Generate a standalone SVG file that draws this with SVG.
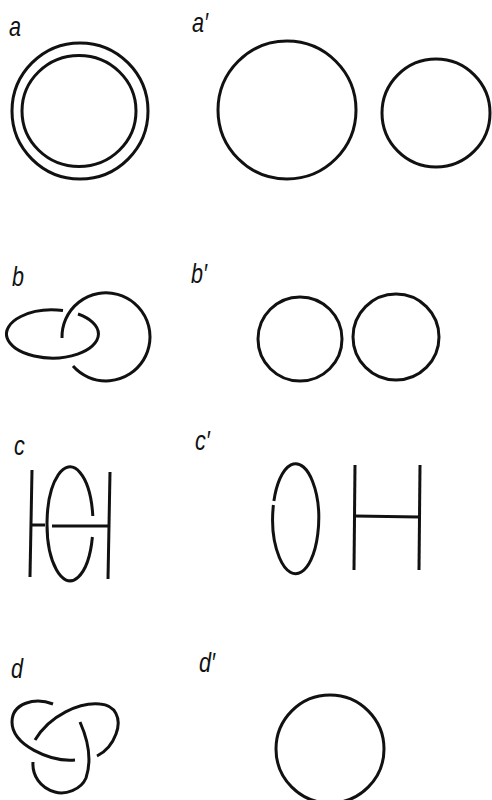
<svg xmlns="http://www.w3.org/2000/svg" width="492" height="800" viewBox="0 0 492 800">
<style>
.s{fill:none;stroke:#111;stroke-width:3;stroke-linecap:butt}
.l{font-family:"Liberation Sans",Arial,sans-serif;font-style:italic;font-size:27px;fill:#111}
</style>
<rect width="492" height="800" fill="#fff"/>
<g id="labels">
<text class="l" transform="translate(9,36) scale(0.8,1)">a</text>
<text class="l" transform="translate(192,32) scale(0.8,1)">a′</text>
<text class="l" transform="translate(12,286) scale(0.8,1)">b</text>
<text class="l" transform="translate(191,283) scale(0.8,1)">b′</text>
<text class="l" transform="translate(14,455) scale(0.8,1)">c</text>
<text class="l" transform="translate(195,450) scale(0.8,1)">c′</text>
<text class="l" transform="translate(11,678) scale(0.8,1)">d</text>
<text class="l" transform="translate(199,672) scale(0.8,1)">d′</text>
</g>
<g id="a">
<circle class="s" cx="80" cy="111" r="68"/>
<ellipse class="s" cx="79" cy="111" rx="57" ry="55.5"/>
</g>
<g id="a-prime">
<circle class="s" cx="287" cy="110" r="69"/>
<circle class="s" cx="436" cy="113" r="54"/>
</g>
<g id="b">
<path class="s" d="M 63 310.6 A 46 24 0 1 0 78 314"/>
<path class="s" d="M 62 338 A 44 44 0 1 1 73 366"/>
</g>
<g id="b-prime">
<circle class="s" cx="300" cy="339" r="42"/>
<circle class="s" cx="396" cy="337" r="43"/>
</g>
<g id="c">
<line class="s" x1="32" y1="470" x2="30" y2="577"/>
<line class="s" x1="110" y1="472" x2="108" y2="579"/>
<path class="s" d="M 92.8 516 A 23 57 0 1 0 92.4 537"/>
<line class="s" x1="31" y1="525" x2="45" y2="525"/>
<line class="s" x1="52" y1="526" x2="108" y2="526"/>
</g>
<g id="c-prime">
<path class="s" d="M 273.4 505 A 23 55 0 1 0 273.9 501"/>
<line class="s" x1="355" y1="465" x2="354" y2="570"/>
<line class="s" x1="420" y1="465" x2="419" y2="570"/>
<line class="s" x1="355" y1="516" x2="419" y2="517"/>
</g>
<g id="d">
<path class="s" d="M 53 704 C 35 697 12 703 12 722 C 12 745 50 762 75 760"/>
<path class="s" d="M 35 740 C 50 715 80 702 100 704 C 115 705 122 718 116 734 C 112 745 105 752 97 756"/>
<path class="s" d="M 80 722 C 88 740 92 760 86 778 C 81 790 65 795 55 792 C 40 788 32 775 33 762"/>
</g>
<g id="d-prime">
<circle class="s" cx="330" cy="749" r="54"/>
</g>
</svg>
